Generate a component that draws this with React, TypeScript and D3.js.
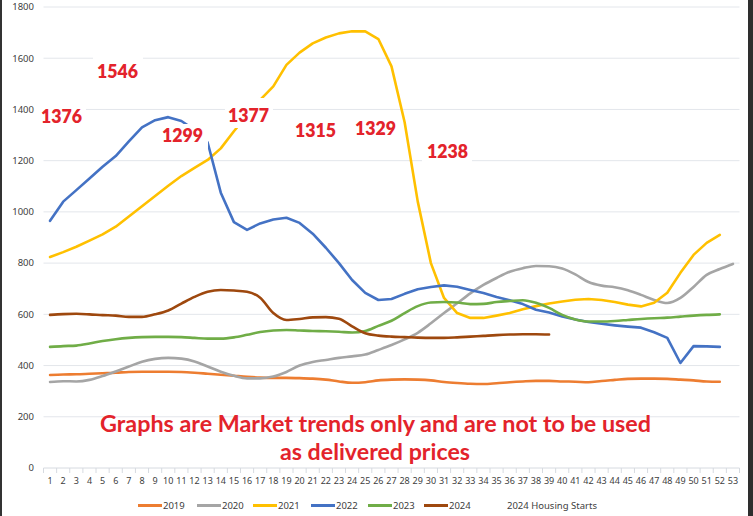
import * as d3 from "d3";
import React from "react";

// weekly price index, week 1..53
const weeks = d3.range(1, 54);

const y2019 = [363, 365, 366, 368, 370, 372, 375, 376, 376, 376, 375, 372, 368, 364, 360, 356, 353, 352, 352, 351, 349, 345, 338, 333, 335, 342, 345, 346, 345, 342, 336, 332, 329, 328, 331, 335, 338, 340, 340, 338, 337, 335, 340, 344, 348, 349, 349, 348, 345, 342, 338, 337];
const y2020 = [336, 339, 338, 344, 359, 377, 396, 415, 426, 430, 427, 416, 396, 376, 360, 350, 350, 357, 375, 400, 414, 422, 430, 436, 443, 461, 480, 502, 528, 565, 605, 643, 682, 715, 742, 766, 780, 789, 788, 779, 756, 726, 712, 706, 694, 676, 656, 644, 664, 707, 754, 777, 797];
const y2021 = [824, 843, 864, 888, 912, 942, 982, 1022, 1062, 1102, 1140, 1172, 1203, 1248, 1315, 1377, 1437, 1490, 1574, 1622, 1658, 1681, 1697, 1705, 1705, 1675, 1568, 1350, 1040, 800, 664, 605, 586, 586, 595, 605, 620, 632, 642, 650, 657, 660, 656, 648, 638, 631, 645, 684, 762, 832, 879, 910];
const y2022 = [965, 1040, 1085, 1130, 1176, 1218, 1275, 1330, 1358, 1370, 1355, 1320, 1271, 1075, 960, 930, 955, 970, 977, 957, 915, 860, 800, 734, 684, 656, 660, 680, 698, 707, 713, 708, 695, 683, 668, 655, 640, 618, 607, 592, 580, 570, 563, 557, 552, 548, 530, 508, 410, 476, 475, 473];
const y2023 = [473, 476, 478, 486, 496, 503, 508, 511, 512, 512, 511, 508, 505, 505, 510, 520, 531, 537, 539, 537, 535, 534, 532, 529, 535, 555, 575, 605, 632, 646, 648, 646, 640, 641, 648, 652, 655, 645, 625, 598, 580, 572, 572, 574, 578, 582, 585, 587, 591, 595, 598, 600];
const y2024 = [598, 601, 602, 600, 597, 595, 590, 590, 600, 615, 642, 668, 688, 695, 693, 688, 665, 605, 578, 582, 588, 589, 583, 553, 526, 517, 513, 511, 509, 508, 508, 510, 513, 516, 519, 521, 522, 522, 521];

const seriesNames = ["2019", "2020", "2021", "2022", "2023", "2024"];
const seriesValues = [y2019, y2020, y2021, y2022, y2023, y2024];
const seriesColors = ["#ed7d31", "#a5a5a5", "#ffc000", "#4472c4", "#70ad47", "#9e480e"];
const seriesSmooth = [true, true, false, false, true, true];

const yTicks = [0, 200, 400, 600, 800, 1000, 1200, 1400, 1600, 1800];

// red call-out numbers (housing starts) and where they sit
const calloutText = ["1376", "1546", "1299", "1377", "1315", "1329", "1238"];
const calloutPos = [
  { x: 41, y: 123, box: [36, 104, 50, 24] },
  { x: 97, y: 78, box: [93, 55, 50, 27] },
  { x: 162, y: 142, box: [158, 124, 50, 26] },
  { x: 228, y: 122, box: [225, 98, 48, 30] },
  { x: 295, y: 137, box: [291, 118, 46, 24] },
  { x: 355, y: 135, box: [351, 116, 48, 24] },
  { x: 427, y: 158, box: [422, 138, 50, 25] },
];
const noteLines = ["Graphs are Market trends only and are not to be used", "as delivered prices"];

const W = 753;
const H = 516;
const margin = { top: 7, left: 43.5, right: 13.5, bottom: 48 };

export default function App() {
  const x = d3
    .scaleBand<number>()
    .domain(weeks)
    .range([margin.left, W - margin.right]);
  const y = d3
    .scaleLinear()
    .domain([0, 1800])
    .range([H - margin.bottom, margin.top]);
  const cx = (w: number) => (x(w) ?? 0) + x.bandwidth() / 2;

  const makeLine = (smooth: boolean) =>
    d3
      .line<number>()
      .x((_, i) => cx(i + 1))
      .y((d) => y(d))
      .curve(smooth ? d3.curveMonotoneX : d3.curveLinear);

  const x0 = margin.left;
  const x1 = W - margin.right;
  const red = "#e3232b";
  const axisFont = "'Noto Sans', 'Open Sans', sans-serif";
  const noteFont = "Lato, 'Noto Sans', sans-serif";

  // legend layout
  const legendX = [138, 197, 253, 311, 368, 424];

  return (
    <svg
      width={W}
      height={H}
      style={{ position: "absolute", left: 0, top: 0, background: "#fff" }}
    >
      <rect x={0} y={0} width={W} height={H} fill="#fff" />

      {/* gridlines */}
      {yTicks.slice(1).map((t) => (
        <line key={t} x1={x0} x2={x1} y1={y(t)} y2={y(t)} stroke="#e3e6eb" strokeWidth={1} />
      ))}
      {/* x axis */}
      <line x1={x0} x2={x1} y1={y(0)} y2={y(0)} stroke="#d6dae0" strokeWidth={1} />
      {weeks.concat([54]).map((w, i) => {
        const xx = x0 + i * x.bandwidth();
        return <line key={w} x1={xx} x2={xx} y1={y(0)} y2={y(0) + 5} stroke="#d6dae0" />;
      })}

      {yTicks.map((t) => (
        <text key={t} x={34} y={y(t)} dy="0.35em" textAnchor="end" fontSize={9.5} fill="#404040" fontFamily={axisFont}>
          {t}
        </text>
      ))}
      {weeks.map((w) => (
        <text key={w} x={cx(w)} y={484} textAnchor="middle" fontSize={9} fill="#404040" fontFamily={axisFont}>
          {w}
        </text>
      ))}

      {seriesValues.map((vals, i) => (
        <path
          key={seriesNames[i]}
          d={makeLine(seriesSmooth[i])(vals) ?? ""}
          fill="none"
          stroke={seriesColors[i]}
          strokeWidth={2.6}
          strokeLinejoin="round"
          strokeLinecap="round"
        />
      ))}

      {/* callouts */}
      {calloutText.map((t, i) => {
        const p = calloutPos[i];
        const [bx, by, bw, bh] = p.box;
        return (
          <g key={t + i}>
            <rect x={bx} y={by} width={bw} height={bh} fill="#fff" />
            <text x={p.x} y={p.y} fontSize={18.5} fontWeight={800} fill={red} fontFamily={noteFont} textLength={41} lengthAdjust="spacingAndGlyphs">
              {t}
            </text>
          </g>
        );
      })}

      <text x={375.5} y={432} textAnchor="middle" fontSize={22.5} fontWeight={700} fill={red} fontFamily={noteFont} textLength={551} lengthAdjust="spacingAndGlyphs">
        {noteLines[0]}
      </text>
      <text x={375} y={460} textAnchor="middle" fontSize={22.5} fontWeight={700} fill={red} fontFamily={noteFont} textLength={190} lengthAdjust="spacingAndGlyphs">
        {noteLines[1]}
      </text>

      {/* legend */}
      {seriesNames.map((n, i) => (
        <g key={n}>
          <line x1={legendX[i]} x2={legendX[i] + 24} y1={505.5} y2={505.5} stroke={seriesColors[i]} strokeWidth={3} />
          <text x={legendX[i] + 25} y={505.5} dy="0.35em" fontSize={9.5} fill="#404040" fontFamily={axisFont}>
            {n}
          </text>
        </g>
      ))}
      <text x={507} y={505.5} dy="0.35em" fontSize={9.5} fill="#404040" fontFamily={axisFont}>
        2024 Housing Starts
      </text>

      {/* frame edges */}
      <rect x={0} y={0} width={2} height={H} fill="#333" />
      <rect x={748} y={0} width={5} height={H} fill="#2e2e2e" />
    </svg>
  );
}
